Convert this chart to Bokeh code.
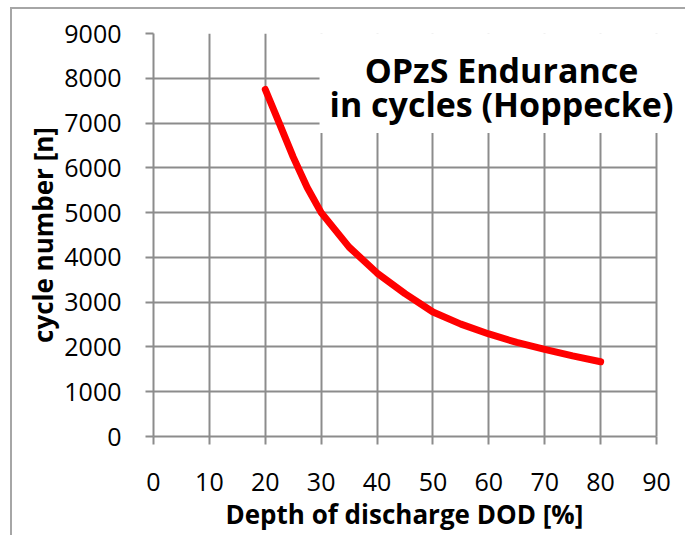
from bokeh.plotting import figure
from bokeh.models import Label, FixedTicker, ColumnDataSource, BoxAnnotation, Title
from bokeh.embed import file_html
from bokeh.resources import INLINE

# Data
dod = [20, 22.5, 25, 27.5, 30, 35, 40, 45, 50, 55, 60, 65, 70, 75, 80]
cycles = [7750, 7000, 6240, 5560, 5000, 4230, 3650, 3190, 2780, 2510, 2290, 2100, 1945, 1800, 1670]
x_ticks = [0, 10, 20, 30, 40, 50, 60, 70, 80, 90]
y_ticks = [0, 1000, 2000, 3000, 4000, 5000, 6000, 7000, 8000, 9000]
title_text = "OPzS Endurance\nin cycles (Hoppecke)"
x_label = "Depth of discharge DOD [%]"
y_label = "cycle number [n]"

GRID = "#8c8c8c"
FONT = "Open Sans"

W, H = 675, 528
LEFT, TOP, BOTTOM = 141, 24, 101
AXIS_W = 503  # pixel width of the 0..90 axis
x_end = x_ticks[-1] * (W - LEFT) / AXIS_W  # frame extends to the right edge for the title

p = figure(width=W, height=H, x_range=(0, x_end), y_range=(y_ticks[0], y_ticks[-1]),
           output_backend="svg", toolbar_location=None,
           min_border_left=LEFT, min_border_right=0, min_border_top=TOP, min_border_bottom=BOTTOM)
p.margin = (7, 0, 0, 10)
p.styles = {"border-left": "2px solid #a6a6a6", "border-top": "2px solid #a6a6a6"}
p.outline_line_color = None
p.background_fill_color = "white"
p.border_fill_color = "white"

for ax in (p.xaxis[0], p.yaxis[0]):
    ax.axis_line_color = GRID
    ax.axis_line_width = 2
    ax.major_tick_line_color = GRID
    ax.major_tick_line_width = 2
    ax.major_tick_out = 8
    ax.major_tick_in = 0
    ax.minor_tick_line_color = None
    ax.major_label_text_font = FONT
    ax.major_label_text_font_size = "25px"
    ax.major_label_text_color = "black"
    ax.axis_label_text_font = FONT
    ax.axis_label_text_font_size = "26px"
    ax.axis_label_text_font_style = "bold"
    ax.axis_label_text_color = "black"

p.xaxis.ticker = FixedTicker(ticks=x_ticks)
p.yaxis.ticker = FixedTicker(ticks=y_ticks)
p.xaxis.bounds = (x_ticks[0], x_ticks[-1])
p.yaxis.axis_label = y_label
p.xaxis.major_label_standoff = 28
p.yaxis.major_label_standoff = 24
p.yaxis.axis_label_standoff = 0

# x axis title placed under the 0..90 part of the axis
xt = Title(text=x_label, align="left", offset=72, standoff=0,
           text_font=FONT, text_font_size="26px", text_font_style="bold",
           text_color="black")
p.add_layout(xt, "below")

xgrid = p.xgrid[0]
ygrid = p.ygrid[0]
for g in (xgrid, ygrid):
    g.grid_line_color = GRID
    g.grid_line_width = 2

# white mask right of the last x tick (so horizontal grid lines stop at 90)
mask = BoxAnnotation(left=x_ticks[-1], fill_color="white", fill_alpha=1.0,
                     line_color=None, level="underlay")
p.center = [ygrid, mask, xgrid]

src = ColumnDataSource(dict(x=dod, y=cycles))
p.line("x", "y", source=src, line_color="#ff0000", line_width=7,
       line_cap="round", line_join="round")

title = Label(x=348, y=418, x_units="screen", y_units="screen",
              text=title_text, text_font=FONT, text_font_size="34px",
              text_font_style="bold", text_align="center", text_baseline="top",
              text_line_height=0.75, text_color="black",
              background_fill_color="white", padding=(10, 10, 28, 6))
p.add_layout(title)

open("out.html", "w").write(file_html(p, INLINE))
